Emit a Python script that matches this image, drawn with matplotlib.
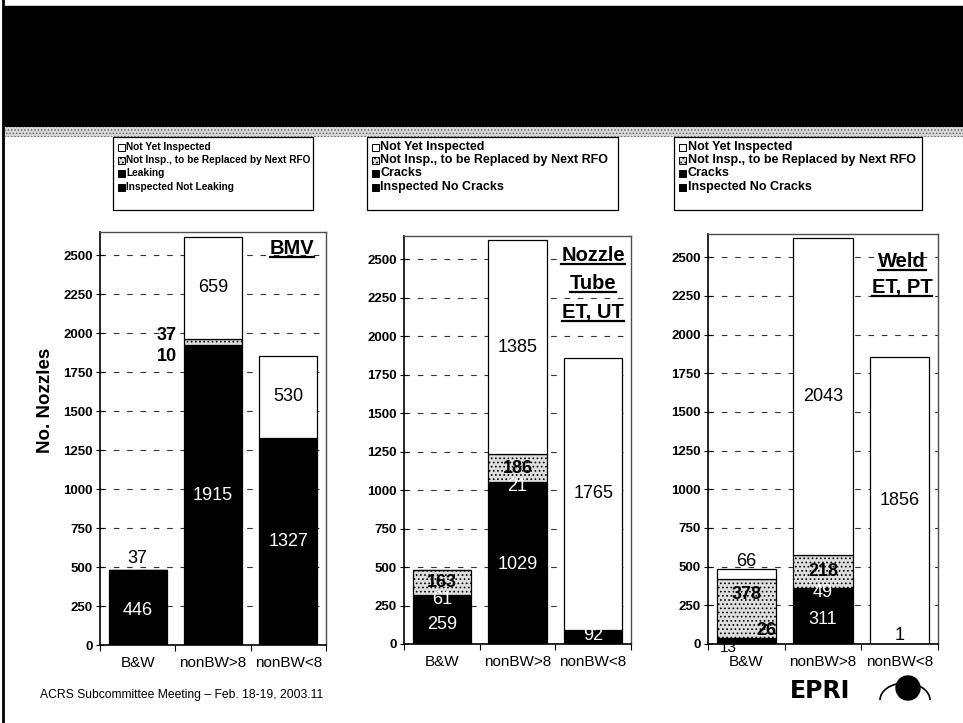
import matplotlib.pyplot as plt
from matplotlib.patches import Rectangle, Circle, Arc
from matplotlib.lines import Line2D
from matplotlib.transforms import IdentityTransform

plt.rcParams['font.family'] = ['Liberation Sans', 'DejaVu Sans']
plt.rcParams['hatch.linewidth'] = 0.7

categories = ['B&W', 'nonBW>8', 'nonBW<8']

# BMV inspections
bmv_inspected = [446, 1915, 1327]
bmv_leaking = [37, 10, 0]
bmv_replace = [0, 37, 0]
bmv_not_yet = [0, 659, 530]

# nozzle tube ET/UT inspections
nozzle_inspected = [259, 1029, 92]
nozzle_cracks = [61, 21, 0]
nozzle_replace = [163, 186, 0]
nozzle_not_yet = [0, 1385, 1765]

# weld ET/PT inspections
weld_inspected = [13, 311, 1]
weld_cracks = [26, 49, 0]
weld_replace = [378, 218, 0]
weld_not_yet = [66, 2043, 1856]

bmv_legend = ['Not Yet Inspected', 'Not Insp., to be Replaced by Next RFO',
              'Leaking', 'Inspected Not Leaking']
crack_legend = ['Not Yet Inspected', 'Not Insp., to be Replaced by Next RFO',
                'Cracks', 'Inspected No Cracks']

W, H = 963, 723
fig = plt.figure(figsize=(W / 100, H / 100), dpi=100)

# page furniture drawn in pixel coordinates
page = fig.add_axes([0, 0, 1, 1], zorder=0)
page.set_xlim(0, W)
page.set_ylim(H, 0)
page.axis('off')

page.add_patch(Rectangle((3, 6), W - 3, 121, color='black'))
page.add_patch(Rectangle((3, 127), W - 3, 10, facecolor='0.85', edgecolor='0.4',
                         hatch='.....', lw=0))
page.plot([3, 3], [0, H], color='black', lw=2)

# stacked layer styles, bottom to top
layer_face = ['black', 'black', '#dedede', 'white']
layer_hatch = [None, None, '....', None]
label_color = ['white', 'white', 'black', 'black']
label_weight = ['normal', 'normal', 'bold', 'normal']


def draw_legend(x0, x1, labels, size):
    page.add_patch(Rectangle((x0, 137), x1 - x0, 73, facecolor='white',
                             edgecolor='black', lw=0.9))
    rows = [147, 160, 173, 187]
    for row, lab, layer in zip(rows, labels, [3, 2, 1, 0]):
        page.add_patch(Rectangle((x0 + 5, row - 3.5), 7, 7, facecolor=layer_face[layer],
                                 edgecolor='black', lw=0.7, hatch=layer_hatch[layer]))
        page.text(x0 + 13.5, row, lab, fontsize=size, weight='bold', va='center')


def panel(x0, x1, y0, y1, layers, legend, legend_box, legend_size, overrides):
    ax = fig.add_axes([x0 / W, 1 - y1 / H, (x1 - x0) / W, (y1 - y0) / H], zorder=1)
    x = list(range(len(categories)))
    bottom = [0] * len(categories)
    for k, vals in enumerate(layers):
        ax.bar(x, vals, bottom=bottom, width=0.77, color=layer_face[k],
               edgecolor='black', linewidth=0.9, hatch=layer_hatch[k], zorder=2)
        for i, v in enumerate(vals):
            if v == 0:
                continue
            opts = dict(x=i, y=bottom[i] + v / 2, ha='center', color=label_color[k],
                        weight=label_weight[k], size=13)
            opts.update(overrides.get((i, k), {}))
            ax.text(opts['x'], opts['y'], str(v), ha=opts['ha'], va='center',
                    fontsize=opts['size'], color=opts['color'], weight=opts['weight'],
                    zorder=3)
        bottom = [b + v for b, v in zip(bottom, vals)]

    ax.set_xlim(-0.5, 2.5)
    ax.set_ylim(0, 2650)
    ax.set_yticks(range(0, 2501, 250))
    ax.set_yticklabels([str(t) for t in range(0, 2501, 250)], fontsize=9.5, weight='bold')
    ax.tick_params(axis='y', direction='inout', length=6, width=0.8, pad=2)
    ax.set_xticks(x)
    ax.set_xticklabels(categories, fontsize=11)
    ax.set_xticks([-0.5, 0.5, 1.5, 2.5], minor=True)
    ax.tick_params(axis='x', which='major', length=0, pad=8)
    ax.tick_params(axis='x', which='minor', direction='out', length=4, width=0.8)
    ax.yaxis.grid(True, linestyle=(0, (5, 7)), color='0.2', lw=0.8)
    ax.set_axisbelow(True)
    for side in ['left', 'bottom']:
        ax.spines[side].set_linewidth(1.2)
    for side in ['top', 'right']:
        ax.spines[side].set_color('0.3')
        ax.spines[side].set_linewidth(1)
    draw_legend(legend_box[0], legend_box[1], legend, legend_size)
    return ax


ax1 = panel(100, 326, 232, 645,
            [bmv_inspected, bmv_leaking, bmv_replace, bmv_not_yet],
            bmv_legend, (113, 313), 7.3,
            {(0, 1): dict(y=557, color='black', weight='normal'),
             (1, 1): dict(x=0.52, y=1852, ha='right', color='black', weight='bold'),
             (1, 2): dict(x=0.52, y=1987, ha='right')})
ax2 = panel(404, 631, 236, 644,
            [nozzle_inspected, nozzle_cracks, nozzle_replace, nozzle_not_yet],
            crack_legend, (367, 618), 9,
            {(2, 0): dict(y=52),
             (1, 1): dict(y=1022)})
ax3 = panel(708, 938, 234, 644,
            [weld_inspected, weld_cracks, weld_replace, weld_not_yet],
            crack_legend, (674, 922), 9,
            {(0, 3): dict(y=531),
             (0, 2): dict(y=317),
             (0, 1): dict(x=0.26, y=90, color='black', weight='bold'),
             (0, 0): dict(x=-0.24, y=-24, color='black', size=11),
             (2, 0): dict(y=58, color='black')})

fig.text(46 / W, 1 - 400 / H, 'No. Nozzles', rotation=90, fontsize=13.5,
         weight='bold', ha='center', va='center')

# underlined panel titles
titles = [(ax1, 2.05, [(2545, 'BMV')]),
          (ax2, 2.0, [(2526, 'Nozzle'), (2344, 'Tube'), (2156, 'ET, UT')]),
          (ax3, 2.03, [(2474, 'Weld'), (2306, 'ET, PT')])]
title_texts = []
for ax, tx, lines in titles:
    for ty, s in lines:
        t = ax.text(tx, ty, s, ha='center', va='center', fontsize=14.5,
                    weight='bold', zorder=4)
        title_texts.append(t)

page.text(40, 695, 'ACRS Subcommittee Meeting \u2013 Feb. 18-19, 2003.11',
          fontsize=8.7, va='center')
page.text(820, 691, 'EPRI', fontsize=17, weight='bold', ha='center', va='center',
          family='DejaVu Sans')
page.add_patch(Circle((908, 688), 12, color='black'))
page.add_patch(Arc((905, 700), 50, 34, theta1=180, theta2=360, color='black', lw=1.2))

fig.canvas.draw()
renderer = fig.canvas.get_renderer()
for t in title_texts:
    bb = t.get_window_extent(renderer)
    fig.add_artist(Line2D([bb.x0, bb.x1], [bb.y0 + 1, bb.y0 + 1], color='black',
                          lw=1.6, transform=IdentityTransform()))

fig.savefig('out.png', dpi=100)
